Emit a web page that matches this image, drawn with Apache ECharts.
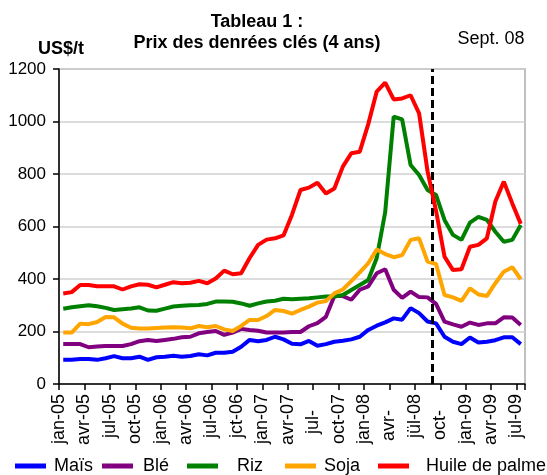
<!DOCTYPE html>
<html><head><meta charset="utf-8">
<script src="https://cdn.jsdelivr.net/npm/echarts@6/dist/echarts.min.js"></script>
<style>html,body{margin:0;padding:0;background:#fff}#c{width:547px;height:475px}</style>
</head><body><div id="c"></div>
<script>
// Tick labels (every 3 months, jan-05 .. jul-09)
const tickLabels = ['jan-05','avr-05','jul-05','oct-05','jan-06','avr-06','jul-06','jct-06','jan-07','avr-07','jul-','oct-07','jan-08','avr-','jül-08','oct-','jan-09','avr-09','jul-09'];
// Monthly prices US$/t, jan-05 .. jul-09 (55 months)
const maize = [92,92,95,95,92,98,106,98,98,104,92,102,104,108,104,107,113,109,119,119,123,142,168,163,168,180,170,153,151,164,146,152,161,165,170,180,206,222,235,250,245,289,270,238,231,180,161,152,177,158,161,167,178,178,152];
const wheat = [152,152,152,140,143,145,145,145,152,163,168,164,168,172,178,180,193,198,202,187,196,210,206,203,196,196,196,198,198,220,232,256,335,335,321,359,372,422,437,359,328,352,331,330,305,238,227,218,234,225,231,231,254,253,225];
const rice = [287,292,296,300,296,290,282,285,288,292,280,279,287,295,298,300,301,305,314,314,313,307,298,307,314,317,325,323,325,327,330,333,333,339,358,377,396,480,655,1018,1008,834,796,739,720,625,568,549,615,637,625,580,542,549,606];
const soy = [196,196,230,228,236,255,254,230,214,211,211,213,215,216,215,212,221,216,221,208,202,221,244,244,259,282,278,268,282,295,310,316,345,360,392,425,460,512,495,483,491,549,555,466,457,339,330,317,364,341,335,384,428,445,399];
const palmOil = [345,350,377,377,372,372,372,360,372,380,378,368,378,388,384,386,393,384,402,432,418,422,480,530,550,555,566,645,739,748,767,726,745,828,879,885,990,1114,1148,1084,1088,1100,1031,810,660,485,434,437,523,530,555,695,771,688,610];
const seriesNames = ['Maïs','Blé','Riz','Soja','Huile de palme'];
const seriesData = [maize, wheat, rice, soy, palmOil];
const colors = ['#0000ff','#800080','#008000','#ffa500','#ff0000'];
const markerMonth = 44; // Sept. 08 boundary

const FONT = '"Liberation Sans", Arial, sans-serif';
const chart = echarts.init(document.getElementById('c'), null, {renderer:'canvas'});
function pts(arr){ return arr.map((v,i)=>[i+0.5, v]); }

const legLeft = [10, 97, 182, 280, 373];
const legPad = [3, 5, 14, 3, 12];

const series = seriesNames.map((n,k)=>({
  name:n, type:'line', data:pts(seriesData[k]), symbol:'none', showSymbol:false,
  lineStyle:{width:4,color:colors[k]}, itemStyle:{color:colors[k]}, z:2+k
}));
series.push({
  name:'marker', type:'line', data:[], z:20,
  markLine:{silent:true, symbol:['none','none'], label:{show:false},
    lineStyle:{color:'#000',width:3,type:[8,4]}, data:[{xAxis:markerMonth}]}
});

const option = {
  animation:false,
  backgroundColor:'#fff',
  grid:{left:59,right:22,top:69,bottom:91,show:true,borderColor:'#c0c0c0',borderWidth:2,backgroundColor:'transparent'},
  xAxis:{type:'value',min:0,max:55,interval:3,
    axisLine:{show:true,onZero:false,lineStyle:{color:'#000',width:1.5}},
    axisTick:{show:true,length:6,lineStyle:{color:'#000',width:1.5}},
    splitLine:{show:false},
    axisLabel:{rotate:90,margin:10,fontSize:18,color:'#000',fontFamily:FONT,
      formatter:function(v){
        if (v % 3 !== 0) return '';
        const t = tickLabels[v/3];
        if (!t) return '';
        return t.length < 6 ? '{s|'+t+'}' : t;
      },
      rich:{s:{padding:[0,16,0,0],fontSize:18,fontFamily:FONT,color:'#000'}}
    }
  },
  yAxis:{type:'value',min:0,max:1200,interval:200,
    axisLine:{show:true,lineStyle:{color:'#000',width:1.5}},
    axisTick:{show:true,length:6,lineStyle:{color:'#000',width:1.5}},
    splitLine:{show:true,lineStyle:{color:'#d0d0d0',width:1.5}},
    axisLabel:{fontSize:17,color:'#000',margin:13,fontFamily:FONT,formatter:function(v){return String(v);}}
  },
  legend: seriesNames.map((n,k)=>({
    data:[n], left:legLeft[k], top:452, icon:'rect', itemWidth:31, itemHeight:5, itemGap:0,
    selectedMode:false,
    textStyle:{fontSize:18,fontFamily:FONT,color:'#000',padding:[0,0,0,legPad[k]]}
  })),
  graphic:[
    {type:'text', x:257, y:22, style:{text:'Tableau 1 :', font:'bold 18px '+FONT, fill:'#000', textAlign:'center', textVerticalAlign:'middle'}},
    {type:'text', x:257, y:43, style:{text:'Prix des denrées clés (4 ans)', font:'bold 18px '+FONT, fill:'#000', textAlign:'center', textVerticalAlign:'middle'}},
    {type:'text', x:61, y:49, style:{text:'US$/t', font:'bold 18px '+FONT, fill:'#000', textAlign:'center', textVerticalAlign:'middle'}},
    {type:'text', x:491, y:39, style:{text:'Sept. 08', font:'18px '+FONT, fill:'#000', textAlign:'center', textVerticalAlign:'middle'}}
  ],
  series: series
};
chart.setOption(option);
</script>
</body></html>
